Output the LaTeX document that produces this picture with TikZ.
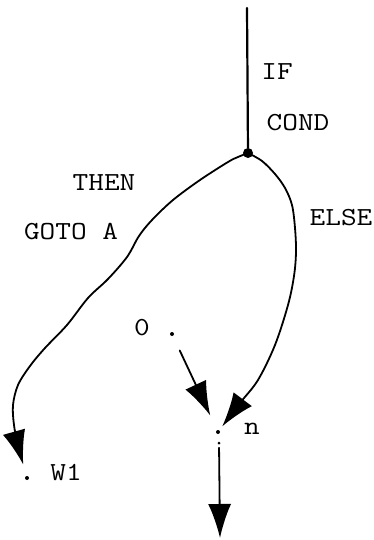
\documentclass[tikz,border=0pt]{standalone}
\usepackage{fontspec}
\usetikzlibrary{arrows.meta}
\newcommand{\twtext}[1]{\scalebox{1.17}[1]{\ttfamily\fontsize{26}{28}\selectfont\addfontfeatures{FakeBold=2}#1}}
\tikzset{
  lbl/.style={inner sep=0pt},
  typedot/.style={circle,fill=black,inner sep=0pt,minimum size=4pt},
  wire/.style={line width=1.8pt,line cap=round,line join=round},
  arr/.style={wire,-{Latex[length=34pt,width=23pt]}}
}
\begin{document}
\begin{tikzpicture}[x=1pt,y=-1pt]
\useasboundingbox (0,0) rectangle (373,540);
% nodes
\coordinate (top) at (247,8);
\node[circle,fill=black,inner sep=0pt,minimum size=10pt] (cond) at (248,153) {};
\node[typedot] (zero) at (172,334) {};
\node[typedot] (n) at (218,432) {};
\node[typedot,minimum size=3pt] (nlow) at (219,443) {};
\node[typedot] (w1) at (27,478) {};
\coordinate (bottom) at (220,538);
% labels
\node[lbl] (lif) at (277,72) {\twtext{IF}};
\node[lbl] (lcond) at (298,123) {\twtext{COND}};
\node[lbl] (lthen) at (104,183) {\twtext{THEN}};
\node[lbl] (lgoto) at (71,232) {\twtext{GOTO A}};
\node[lbl] (lelse) at (341,218) {\twtext{ELSE}};
\node[lbl] (lzero) at (142,328) {\twtext{0}};
\node[lbl] (ln) at (252,429) {\twtext{n}};
\node[lbl] (lw1) at (66,473) {\twtext{W1}};
% connectors
\draw[wire,line width=2.2pt] (top) -- (cond);
\draw[arr,shorten >=14pt] plot[smooth,tension=0.55] coordinates {(cond) (238,157) (228,162) (200,180) (173,200) (152,220) (139,236) (127,257) (108,279) (88,298) (67,325) (45,348) (30,366) (18,385) (13,405) (14,425) (18,445) (w1)};
\draw[arr,shorten >=7pt] plot[smooth,tension=0.55] coordinates {(cond) (262,161) (275,174) (285,188) (292,205) (295,228) (296,252) (294,276) (288,305) (275,345) (258,380) (240,403) (n)};
\draw[arr,shorten <=16pt,shorten >=16pt] (zero) -- (n);
\draw[arr,shorten <=3pt] (nlow) -- (bottom);
\end{tikzpicture}
\end{document}
